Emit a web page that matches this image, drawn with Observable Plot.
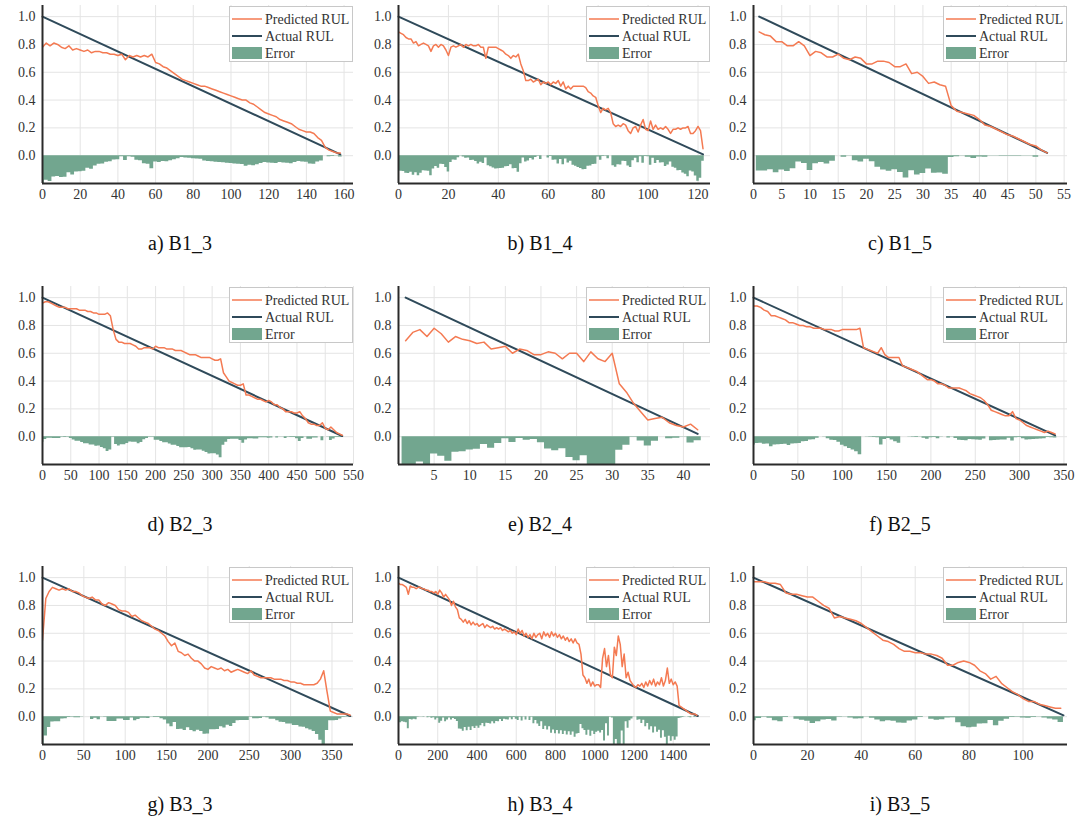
<!DOCTYPE html>
<html><head><meta charset="utf-8">
<script src="https://cdn.jsdelivr.net/npm/d3@7"></script>
<script src="https://cdn.jsdelivr.net/npm/@observablehq/plot@0.6"></script>
<style>
body{margin:0;background:#fff;}
#wrap{position:relative;width:1080px;height:827px;font-family:"Liberation Serif",Times,"Times New Roman","DejaVu Serif",serif;overflow:hidden;}
.cell{position:absolute;width:360px;height:280px;}
.cell svg.plot{position:absolute;left:0;top:0;}
.cap{position:absolute;left:0;width:360px;top:232px;line-height:22px;text-align:center;font-size:20px;color:#111;}
.leg{position:absolute;top:6px;}
</style></head>
<body><div id="wrap"></div>
<script>
// ---- data ----
// predicted RUL samples: x = start + step*i
const predB1_3 = [0.78,0.81,0.79,0.81,0.80,0.78,0.77,0.79,0.76,0.77,0.76,0.75,0.76,0.74,0.75,0.75,0.74,0.74,0.73,0.73,0.72,0.73,0.69,0.72,0.71,0.72,0.71,0.72,0.71,0.73,0.67,0.66,0.64,0.63,0.61,0.59,0.57,0.55,0.54,0.53,0.52,0.51,0.50,0.50,0.49,0.48,0.47,0.46,0.45,0.44,0.43,0.42,0.41,0.40,0.40,0.38,0.37,0.35,0.33,0.31,0.30,0.29,0.28,0.26,0.25,0.24,0.23,0.21,0.19,0.18,0.17,0.17,0.16,0.13,0.11,0.06,0.04,0.03,0.02,0.02];
const predB1_4 = [0.89,0.88,0.87,0.85,0.84,0.84,0.81,0.82,0.79,0.80,0.81,0.80,0.79,0.75,0.79,0.80,0.78,0.80,0.79,0.76,0.72,0.78,0.79,0.78,0.79,0.80,0.78,0.80,0.79,0.80,0.79,0.79,0.80,0.78,0.78,0.70,0.78,0.78,0.78,0.78,0.77,0.76,0.75,0.73,0.72,0.70,0.72,0.71,0.73,0.66,0.61,0.54,0.54,0.55,0.53,0.54,0.55,0.51,0.53,0.52,0.53,0.51,0.53,0.52,0.54,0.50,0.53,0.48,0.50,0.48,0.50,0.50,0.50,0.50,0.50,0.49,0.46,0.45,0.43,0.42,0.36,0.31,0.34,0.33,0.34,0.31,0.23,0.21,0.22,0.21,0.23,0.22,0.18,0.16,0.20,0.21,0.17,0.22,0.26,0.19,0.18,0.25,0.19,0.22,0.19,0.20,0.19,0.21,0.19,0.16,0.19,0.19,0.20,0.19,0.20,0.20,0.21,0.16,0.16,0.18,0.21,0.18,0.05];
const predB1_5 = [0.89,0.87,0.86,0.82,0.82,0.79,0.79,0.82,0.79,0.72,0.75,0.74,0.71,0.71,0.73,0.70,0.69,0.71,0.70,0.66,0.66,0.68,0.68,0.67,0.64,0.64,0.66,0.59,0.60,0.57,0.52,0.53,0.51,0.50,0.36,0.32,0.31,0.30,0.29,0.26,0.22,0.21,0.19,0.17,0.15,0.14,0.12,0.10,0.08,0.07,0.04,0.02];
const predB2_3 = [0.96,0.97,0.97,0.96,0.95,0.94,0.93,0.93,0.93,0.92,0.92,0.92,0.92,0.91,0.91,0.91,0.90,0.90,0.89,0.89,0.88,0.88,0.88,0.89,0.87,0.77,0.70,0.68,0.68,0.67,0.67,0.67,0.66,0.65,0.63,0.63,0.64,0.64,0.64,0.63,0.65,0.64,0.64,0.64,0.63,0.63,0.63,0.62,0.62,0.62,0.61,0.60,0.59,0.59,0.59,0.58,0.57,0.57,0.57,0.57,0.56,0.55,0.55,0.56,0.46,0.43,0.40,0.39,0.38,0.37,0.37,0.38,0.30,0.30,0.29,0.28,0.27,0.27,0.26,0.25,0.26,0.25,0.23,0.23,0.21,0.20,0.18,0.18,0.18,0.17,0.17,0.18,0.15,0.13,0.10,0.09,0.09,0.08,0.08,0.10,0.06,0.05,0.07,0.05,0.03,0.02,0.01];
const predB2_4 = [0.69,0.75,0.77,0.72,0.78,0.74,0.68,0.72,0.70,0.69,0.67,0.68,0.63,0.64,0.65,0.60,0.63,0.62,0.59,0.59,0.61,0.60,0.56,0.60,0.60,0.54,0.61,0.56,0.54,0.60,0.38,0.32,0.24,0.18,0.12,0.13,0.14,0.10,0.08,0.07,0.09,0.05];
const predB2_5 = [0.94,0.94,0.93,0.91,0.90,0.87,0.87,0.86,0.85,0.84,0.82,0.82,0.81,0.80,0.80,0.79,0.79,0.78,0.78,0.78,0.77,0.77,0.77,0.76,0.76,0.77,0.77,0.77,0.77,0.77,0.78,0.64,0.63,0.62,0.61,0.60,0.64,0.59,0.57,0.57,0.57,0.57,0.51,0.50,0.49,0.48,0.47,0.45,0.43,0.41,0.41,0.40,0.38,0.38,0.37,0.35,0.35,0.35,0.35,0.34,0.33,0.31,0.30,0.29,0.28,0.26,0.23,0.19,0.18,0.17,0.16,0.15,0.15,0.18,0.13,0.12,0.10,0.08,0.07,0.06,0.05,0.04,0.03,0.04,0.03,0.02];
const predB3_3 = [0.55,0.85,0.90,0.93,0.92,0.91,0.92,0.91,0.92,0.90,0.90,0.89,0.87,0.86,0.85,0.86,0.84,0.84,0.81,0.80,0.82,0.81,0.80,0.77,0.76,0.76,0.75,0.72,0.73,0.71,0.69,0.68,0.67,0.65,0.63,0.62,0.60,0.58,0.54,0.51,0.53,0.47,0.46,0.44,0.45,0.42,0.40,0.40,0.38,0.35,0.34,0.36,0.35,0.34,0.35,0.33,0.34,0.32,0.33,0.34,0.33,0.32,0.31,0.33,0.30,0.29,0.28,0.28,0.28,0.28,0.27,0.27,0.27,0.26,0.26,0.25,0.25,0.24,0.24,0.23,0.23,0.23,0.23,0.24,0.27,0.33,0.18,0.04,0.03,0.02,0.02,0.02,0.02,0.01];
const predB3_4 = [0.96,0.95,0.95,0.94,0.93,0.88,0.94,0.93,0.93,0.92,0.93,0.93,0.92,0.92,0.91,0.91,0.90,0.90,0.89,0.90,0.88,0.91,0.89,0.86,0.88,0.86,0.84,0.80,0.83,0.79,0.77,0.71,0.70,0.68,0.70,0.67,0.69,0.66,0.68,0.66,0.67,0.65,0.66,0.67,0.64,0.66,0.65,0.64,0.65,0.63,0.64,0.63,0.64,0.62,0.63,0.62,0.61,0.62,0.60,0.61,0.59,0.63,0.60,0.62,0.58,0.60,0.57,0.59,0.56,0.60,0.57,0.59,0.60,0.56,0.61,0.58,0.60,0.57,0.61,0.58,0.60,0.57,0.59,0.56,0.58,0.55,0.57,0.54,0.56,0.53,0.56,0.53,0.52,0.45,0.30,0.28,0.24,0.27,0.22,0.25,0.22,0.23,0.23,0.21,0.42,0.49,0.36,0.44,0.30,0.28,0.50,0.44,0.58,0.52,0.36,0.45,0.28,0.32,0.26,0.24,0.22,0.21,0.23,0.22,0.24,0.21,0.25,0.22,0.26,0.23,0.27,0.22,0.25,0.23,0.28,0.22,0.26,0.35,0.24,0.27,0.23,0.25,0.22,0.08,0.07,0.06,0.05,0.04,0.03,0.02,0.02,0.02,0.01];
const predB3_5 = [0.97,0.97,0.97,0.96,0.96,0.95,0.89,0.88,0.88,0.87,0.86,0.86,0.83,0.80,0.78,0.71,0.72,0.71,0.70,0.69,0.67,0.64,0.61,0.58,0.55,0.54,0.52,0.49,0.47,0.47,0.46,0.46,0.45,0.45,0.44,0.42,0.37,0.37,0.39,0.40,0.39,0.37,0.33,0.31,0.27,0.29,0.24,0.21,0.18,0.16,0.13,0.11,0.11,0.09,0.08,0.07,0.06,0.06];

// sample start / step (cycles)
const startB1_3 = 0, stepB1_3 = 2;
const startB1_4 = 0, stepB1_4 = 1;
const startB1_5 = 1, stepB1_5 = 1;
const startB2_3 = 0, stepB2_3 = 5;
const startB2_4 = 1, stepB2_4 = 1;
const startB2_5 = 0, stepB2_5 = 4;
const startB3_3 = 0, stepB3_3 = 4;
const startB3_4 = 0, stepB3_4 = 10;
const startB3_5 = 0, stepB3_5 = 2;

// actual RUL endpoints [cycle, value]
const actualB1_3 = [[0, 1.0], [158, 0.01]];
const actualB1_4 = [[0, 1.0], [122, 0.01]];
const actualB1_5 = [[1, 1.0], [52, 0.02]];
const actualB2_3 = [[0, 1.0], [530, 0.005]];
const actualB2_4 = [[1, 1.0], [42, 0.02]];
const actualB2_5 = [[0, 1.0], [340, 0.01]];
const actualB3_3 = [[0, 1.0], [372, 0.005]];
const actualB3_4 = [[0, 1.0], [1525, 0.005]];
const actualB3_5 = [[0, 1.0], [115, 0.01]];

// x-axis extents and tick labels
const xmaxes = [165, 125, 55.6, 550, 43.8, 354, 376, 1590, 116.5];
const ticksB1_3 = [0,20,40,60,80,100,120,140,160];
const ticksB1_4 = [0,20,40,60,80,100,120];
const ticksB1_5 = [0,5,10,15,20,25,30,35,40,45,50,55];
const ticksB2_3 = [0,50,100,150,200,250,300,350,400,450,500,550];
const ticksB2_4 = [5,10,15,20,25,30,35,40];
const ticksB2_5 = [0,50,100,150,200,250,300,350];
const ticksB3_3 = [0,50,100,150,200,250,300,350];
const ticksB3_4 = [0,200,400,600,800,1000,1200,1400];
const ticksB3_5 = [0,20,40,60,80,100];
const yTicks = [0, 0.2, 0.4, 0.6, 0.8, 1.0];

const captions = ["a) B1_3","b) B1_4","c) B1_5","d) B2_3","e) B2_4","f) B2_5","g) B3_3","h) B3_4","i) B3_5"];
const seriesNames = ["Predicted RUL", "Actual RUL", "Error"];

const COL_PRED = "#f47a52", COL_ACT = "#2f4a5a", COL_ERR = "#72a68f";
const FONT = '"Liberation Serif", Times, "Times New Roman", "DejaVu Serif", serif';

const panels = [
  [predB1_3, startB1_3, stepB1_3, actualB1_3, ticksB1_3],
  [predB1_4, startB1_4, stepB1_4, actualB1_4, ticksB1_4],
  [predB1_5, startB1_5, stepB1_5, actualB1_5, ticksB1_5],
  [predB2_3, startB2_3, stepB2_3, actualB2_3, ticksB2_3],
  [predB2_4, startB2_4, stepB2_4, actualB2_4, ticksB2_4],
  [predB2_5, startB2_5, stepB2_5, actualB2_5, ticksB2_5],
  [predB3_3, startB3_3, stepB3_3, actualB3_3, ticksB3_3],
  [predB3_4, startB3_4, stepB3_4, actualB3_4, ticksB3_4],
  [predB3_5, startB3_5, stepB3_5, actualB3_5, ticksB3_5]
];

const colMargins = [{ml: 42, mr: 7}, {ml: 38, mr: 10}, {ml: 33, mr: 13}];
const rowTops = [0, 281, 561];

const wrap = document.getElementById("wrap");

panels.forEach(([pred, start, step, act, ticks], k) => {
  const row = Math.floor(k / 3), col = k % 3;
  const {ml, mr} = colMargins[col];
  const [[ax0, ay0], [ax1, ay1]] = act;
  const actualAt = x => ay0 + (ay1 - ay0) * (x - ax0) / (ax1 - ax0);
  const rows = pred.map((v, i) => {
    const x = start + step * i;
    return {x, v, x1: x - step / 2, x2: x + step / 2, e: -Math.abs(v - actualAt(x))};
  });
  // error as a stepped area (one bar per sample, centred on it)
  const errRows = rows.map(r => ({x: r.x1, e: r.e}));
  errRows.push({x: rows[rows.length - 1].x2, e: rows[rows.length - 1].e});
  const actRows = act.map(([x, y]) => ({x, y}));

  const cell = document.createElement("div");
  cell.className = "cell";
  cell.style.left = (col * 360) + "px";
  cell.style.top = rowTops[row] + "px";
  wrap.appendChild(cell);

  const chart = Plot.plot({
    width: 360, height: 210,
    marginLeft: ml, marginRight: mr, marginTop: 5, marginBottom: 27,
    style: {fontFamily: FONT, fontSize: "14px", color: "#333", background: "transparent", overflow: "visible"},
    x: {domain: [0, xmaxes[k]]},
    y: {domain: [-0.2, 1.08]},
    marks: [
      Plot.gridX(ticks, {stroke: "#e4e4e4", strokeOpacity: 1}),
      Plot.gridY(yTicks, {stroke: "#e4e4e4", strokeOpacity: 1}),
      Plot.areaY(errRows, {x: "x", y: "e", curve: "step-after", fill: COL_ERR, clip: true}),
      Plot.line(actRows, {x: "x", y: "y", stroke: COL_ACT, strokeWidth: 2}),
      Plot.line(rows, {x: "x", y: "v", stroke: COL_PRED, strokeWidth: 1.5, clip: true}),
      Plot.ruleY([-0.2], {stroke: "#2a2a2a", strokeWidth: 2}),
      Plot.ruleX([0], {stroke: "#2a2a2a", strokeWidth: 2}),
      Plot.axisX(ticks, {tickSize: 0, tickPadding: 6, label: null, tickFormat: d => String(d), fill: "#333"}),
      Plot.axisY(yTicks, {tickSize: 0, tickPadding: 7, label: null, tickFormat: d3.format(".1f"), fill: "#333"})
    ]
  });
  chart.classList.add("plot");
  cell.appendChild(chart);

  // legend
  const lw = 124, lh = 56;
  const leg = d3.create("svg").attr("class", "leg").attr("width", lw).attr("height", lh)
    .style("left", (360 - mr - lw) + "px")
    .style("font-family", FONT).style("font-size", "14px");
  leg.append("rect").attr("x", 0.5).attr("y", 0.5).attr("width", lw - 1).attr("height", lh - 1)
    .attr("fill", "#fff").attr("stroke", "#c8c8c8");
  leg.append("line").attr("x1", 3).attr("x2", 33).attr("y1", 13).attr("y2", 13).attr("stroke", COL_PRED).attr("stroke-width", 1.5);
  leg.append("line").attr("x1", 3).attr("x2", 33).attr("y1", 30).attr("y2", 30).attr("stroke", COL_ACT).attr("stroke-width", 2);
  leg.append("rect").attr("x", 3).attr("y", 41).attr("width", 30).attr("height", 12).attr("fill", COL_ERR);
  [[18, seriesNames[0]], [35, seriesNames[1]], [52, seriesNames[2]]].forEach(([y, t]) => {
    leg.append("text").attr("x", 36).attr("y", y).attr("fill", "#333").text(t);
  });
  cell.appendChild(leg.node());

  const cap = document.createElement("div");
  cap.className = "cap";
  cap.textContent = captions[k];
  cell.appendChild(cap);
});
</script></body></html>
